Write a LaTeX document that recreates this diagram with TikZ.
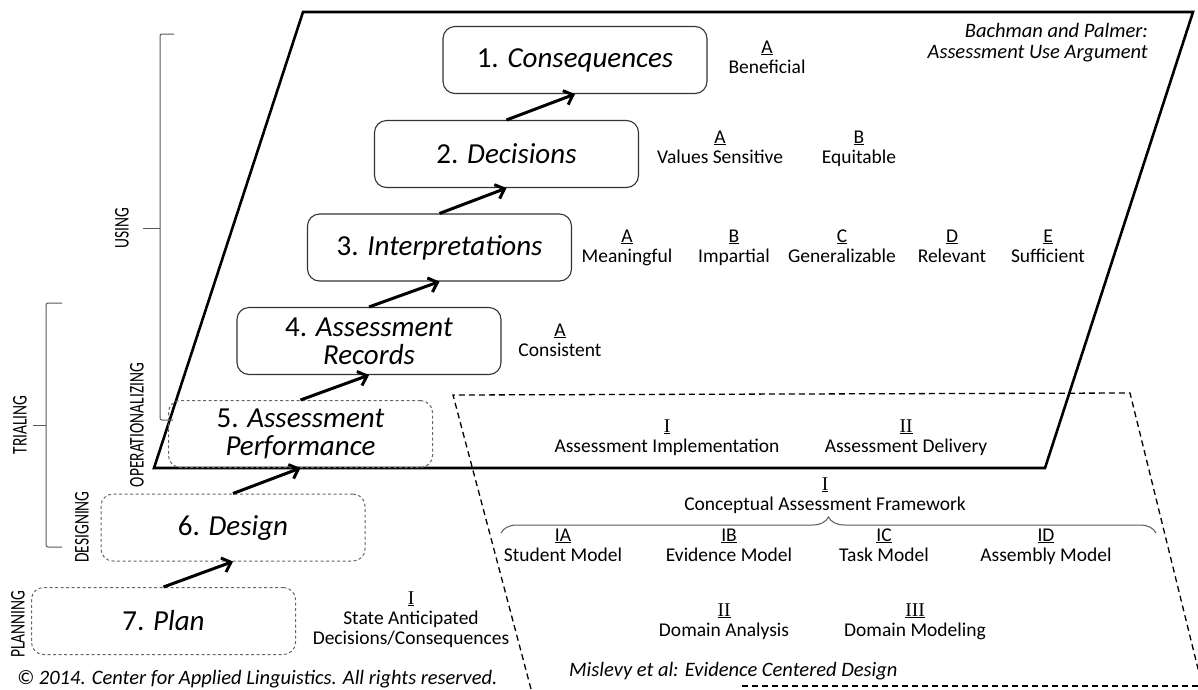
\documentclass[tikz,border=0pt]{standalone}
\usepackage{fontspec}
\setmainfont{Carlito}
\newfontfamily\numfont{Liberation Serif}
\usetikzlibrary{arrows.meta,decorations.pathreplacing}

\newcommand{\rn}[1]{{\numfont\underline{#1}}}
\newcommand{\qual}[2]{#1\strut\\#2\strut}

\begin{document}
\begin{tikzpicture}[x=1pt,y=-1pt]
\tikzstyle{every node}=[inner sep=0pt, align=center]
\tikzstyle{stage}=[draw=black!80, line width=1.1pt, rounded corners=12pt, minimum width=264pt, minimum height=67pt, font=\fontsize{29}{28}\selectfont]
\tikzstyle{plain stage}=[stage, draw=black!60, dash pattern=on 3pt off 2.5pt, line width=1pt]
\tikzstyle{up}=[-{Straight Barb[length=8pt,width=15pt]}, line width=3pt]
\tikzstyle{crit}=[font=\fontsize{19.5}{20}\selectfont]
\tikzstyle{tag}=[font=\fontsize{15.5}{15.5}\selectfont, rotate=90]
\tikzstyle{note}=[font=\fontsize{20.5}{21}\selectfont\itshape]
\tikzstyle{bracket}=[draw=black!65, line width=1pt, rounded corners=2pt]
\useasboundingbox (0,0) rectangle (1198,689);

% the two planes
\draw[line width=2.6pt, line join=miter] (154,468) -- (1045,468) -- (1193,12) -- (303,12) -- cycle;
\draw[line width=1.3pt, dash pattern=on 6pt off 4pt] (531,689) -- (453,395) -- (1130,393) -- (1203,689);
\draw[line width=1.3pt, dash pattern=on 6pt off 4pt] (742,686) -- (1198,686);

% stages
\draw (575,60) node (s1) [stage] {1. \textit{Consequences}};
\draw (506.5,154) node (s2) [stage] {2. \textit{Decisions}};
\draw (439.5,247.5) node (s3) [stage] {3. \textit{Interpretations}};
\draw (369,341) node (s4) [stage] {4. \textit{Assessment}\\\textit{Records}};
\draw (300.5,434) node (s5) [plain stage] {5. \textit{Assessment}\\\textit{Performance}};
\draw (233,527.5) node (s6) [plain stage] {6. \textit{Design}};
\draw (163.5,621) node (s7) [plain stage] {7. \textit{Plan}};
\draw[up] (s7.north) -- (s6.south);
\draw[up] (s6.north) -- (s5.south);
\draw[up] (s5.north) -- (s4.south);
\draw[up] (s4.north) -- (s3.south);
\draw[up] (s3.north) -- (s2.south);
\draw[up] (s2.north) -- (s1.south);

% AUA qualities
\draw (767,59) node (c1a) [crit] {\qual{\underline{A}}{Beneficial}};
\draw (720,149) node (c2a) [crit] {\qual{\underline{A}}{Values Sensitive}};
\draw (859,149) node (c2b) [crit] {\qual{\underline{B}}{Equitable}};
\draw (627,248) node (c3a) [crit] {\qual{\underline{A}}{Meaningful}};
\draw (734,248) node (c3b) [crit] {\qual{\underline{B}}{Impartial}};
\draw (842,248) node (c3c) [crit] {\qual{\underline{C}}{Generalizable}};
\draw (952,248) node (c3d) [crit] {\qual{\underline{D}}{Relevant}};
\draw (1048,248) node (c3e) [crit] {\qual{\underline{E}}{Sufficient}};
\draw (560,342) node (c4a) [crit] {\qual{\underline{A}}{Consistent}};
\draw (1148,43) node (aua) [note, anchor=east, align=right] {Bachman and Palmer:\\Assessment Use Argument};

% ECD layers
\draw (667,438) node (e1) [crit] {\qual{\rn{I}}{Assessment Implementation}};
\draw (906,438) node (e2) [crit] {\qual{\rn{II}}{Assessment Delivery}};
\draw (825,496) node (caf) [crit] {\qual{\rn{I}}{Conceptual Assessment Framework}};
\coordinate (cafl) at (501,533);
\coordinate (cafr) at (1156,533);
\draw[draw=black!65, line width=1pt, decorate, decoration={brace, amplitude=16pt}] (cafl) -- (cafr);
\draw (563,547) node (ia) [crit] {\qual{\underline{IA}}{Student Model}};
\draw (729,547) node (ib) [crit] {\qual{\underline{IB}}{Evidence Model}};
\draw (884,547) node (ic) [crit] {\qual{\underline{IC}}{Task Model}};
\draw (1046,547) node (id) [crit] {\qual{\underline{ID}}{Assembly Model}};
\draw (724,622) node (da) [crit] {\qual{\rn{II}}{Domain Analysis}};
\draw (915,622) node (dm) [crit] {\qual{\rn{III}}{Domain Modeling}};
\draw (411,620) node (plan) [crit] {\rn{I}\strut\\State Anticipated\strut\\Decisions/Consequences\strut};
\draw (569,671) node (ecd) [note, anchor=west] {Mislevy et al: Evidence Centered Design};
\draw (17,679) node (copy) [note, anchor=west] {\textcopyright{} 2014. Center for Applied Linguistics. All rights reserved.};

% phases
\draw[bracket] (174,34) -- (160,34) -- (160,420) -- (173,420);
\draw[bracket] (160,228) -- (143,228);
\draw[bracket] (62,303) -- (46,303) -- (46,547) -- (62,547);
\draw[bracket] (46,425) -- (33,425);
\draw (122,228) node (using) [tag] {\scalebox{1}[1.35]{USING}};
\draw (20,425) node (trial) [tag] {\scalebox{1}[1.35]{TRIALING}};
\draw (137,425) node (oper) [tag] {\scalebox{1}[1.35]{OPERATIONALIZING}};
\draw (82,527) node (desg) [tag] {\scalebox{1}[1.35]{DESIGNING}};
\draw (18,624) node (plng) [tag] {\scalebox{1}[1.35]{PLANNING}};
\end{tikzpicture}
\end{document}
